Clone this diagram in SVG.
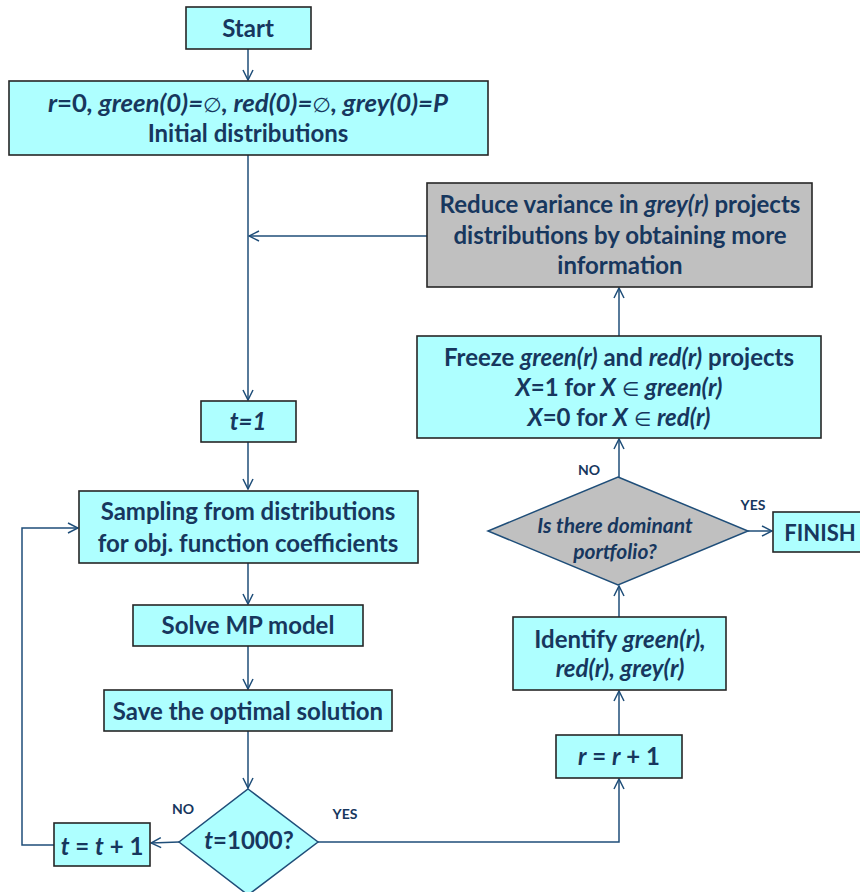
<svg xmlns="http://www.w3.org/2000/svg" width="860" height="892" viewBox="0 0 860 892">
  <style>
    .box { fill: #AEFFFF; stroke: #262626; stroke-width: 1.6; }
    .grey { fill: #C0C0C0; stroke: #262626; stroke-width: 1.6; }
    .dia { stroke: #1F4E79; stroke-width: 1.5; }
    .t { font-family: Lato, "Liberation Sans", "DejaVu Sans", sans-serif; font-weight: bold; font-size: 24px; fill: #17375E; text-anchor: middle; }
    .i { font-style: italic; }
    .sym { font-family: "DejaVu Sans", sans-serif; font-weight: normal; font-style: normal; font-size: 20px; }
    .lbl { font-family: Lato, "Liberation Sans", sans-serif; font-weight: bold; font-size: 14px; fill: #17375E; text-anchor: middle; }
    .c { fill: none; stroke: #1F4E79; stroke-width: 1.5; }
  </style>
  <defs>
    <marker id="arr" viewBox="0 0 12 12" markerWidth="12" markerHeight="12" markerUnits="userSpaceOnUse" refX="11" refY="6" orient="auto">
      <path d="M1,1 L11,6 L1,11" fill="none" stroke="#1F4E79" stroke-width="1.5"/>
    </marker>
  </defs>

  <!-- connectors -->
  <g id="connectors">
    <path class="c" d="M248,49 V80" marker-end="url(#arr)"/>
    <path class="c" d="M248,155 V400" marker-end="url(#arr)"/>
    <path class="c" d="M427,236 H249" marker-end="url(#arr)"/>
    <path class="c" d="M248,442 V489" marker-end="url(#arr)"/>
    <path class="c" d="M248,563 V604" marker-end="url(#arr)"/>
    <path class="c" d="M248,646 V689" marker-end="url(#arr)"/>
    <path class="c" d="M248,731 V788" marker-end="url(#arr)"/>
    <path class="c" d="M179,842 L151,843" marker-end="url(#arr)"/>
    <path class="c" d="M54,845 H22 V528 H78" marker-end="url(#arr)"/>
    <path class="c" d="M318,842 H619 V779" marker-end="url(#arr)"/>
    <path class="c" d="M619,735 V691" marker-end="url(#arr)"/>
    <path class="c" d="M619,617 V586" marker-end="url(#arr)"/>
    <path class="c" d="M619,477 V439" marker-end="url(#arr)"/>
    <path class="c" d="M619,336 V288" marker-end="url(#arr)"/>
    <path class="c" d="M748,531 H772" marker-end="url(#arr)"/>
    <text class="lbl" x="183" y="814">NO</text>
    <text class="lbl" x="345" y="819">YES</text>
    <text class="lbl" x="589" y="475">NO</text>
    <text class="lbl" x="753" y="510">YES</text>
  </g>

  <g id="start">
    <rect class="box" x="186" y="7" width="125" height="42"/>
    <text class="t" x="248" y="37">Start</text>
  </g>

  <g id="init">
    <rect class="box" x="9" y="81" width="479" height="74"/>
    <text class="t" x="248" y="112" textLength="400" lengthAdjust="spacingAndGlyphs"><tspan class="i">r</tspan>=0<tspan class="i">, green(0)=</tspan><tspan class="sym">∅</tspan><tspan class="i">, red(0)=</tspan><tspan class="sym">∅</tspan><tspan class="i">, grey(0)=P</tspan></text>
    <text class="t" x="248" y="142">Initial distributions</text>
  </g>

  <g id="reduce">
    <rect class="grey" x="427" y="183" width="385" height="104"/>
    <text class="t" x="620" y="213">Reduce variance in <tspan class="i">grey(r)</tspan> projects</text>
    <text class="t" x="620" y="244">distributions by obtaining more</text>
    <text class="t" x="620" y="274">information</text>
  </g>

  <g id="t1">
    <rect class="box" x="201" y="401" width="95" height="41"/>
    <text class="t i" x="248" y="430">t=1</text>
  </g>

  <g id="freeze">
    <rect class="box" x="417" y="336" width="404" height="102"/>
    <text class="t" x="619" y="366">Freeze <tspan class="i">green(r)</tspan> and <tspan class="i">red(r)</tspan> projects</text>
    <text class="t" x="619" y="396"><tspan class="i">X</tspan>=1 for <tspan class="i">X</tspan> <tspan class="sym">∈</tspan> <tspan class="i">green(r)</tspan></text>
    <text class="t" x="619" y="426"><tspan class="i">X</tspan>=0 for <tspan class="i">X</tspan> <tspan class="sym">∈</tspan> <tspan class="i">red(r)</tspan></text>
  </g>

  <g id="dominant">
    <polygon class="grey dia" points="618,477 748,531 618,585 488,531"/>
    <text class="t i" x="615" y="533" style="font-size:21px">Is there dominant</text>
    <text class="t i" x="615" y="559" style="font-size:21px">portfolio?</text>
  </g>

  <g id="finish">
    <rect class="box" x="773" y="512" width="100" height="40"/>
    <text class="t" x="820" y="541" style="font-size:22px">FINISH</text>
  </g>

  <g id="sampling">
    <rect class="box" x="79" y="491" width="339" height="72"/>
    <text class="t" x="248" y="520">Sampling from distributions</text>
    <text class="t" x="248" y="552">for obj. function coefficients</text>
  </g>

  <g id="solve">
    <rect class="box" x="133" y="605" width="230" height="41"/>
    <text class="t" x="248" y="634">Solve MP model</text>
  </g>

  <g id="identify">
    <rect class="box" x="513" y="617" width="213" height="73"/>
    <text class="t" x="620" y="648">Identify <tspan class="i">green(r),</tspan></text>
    <text class="t i" x="620" y="677">red(r), grey(r)</text>
  </g>

  <g id="save">
    <rect class="box" x="104" y="690" width="288" height="41"/>
    <text class="t" x="248" y="720">Save the optimal solution</text>
  </g>

  <g id="rinc">
    <rect class="box" x="556" y="735" width="126" height="43"/>
    <text class="t" x="619" y="765"><tspan class="i">r</tspan> = <tspan class="i">r</tspan> + 1</text>
  </g>

  <g id="check">
    <polygon class="box dia" points="248,789 318,842 248,895 179,842"/>
    <text class="t" x="249" y="849"><tspan class="i">t</tspan>=1000?</text>
  </g>

  <g id="tinc">
    <rect class="box" x="54" y="823" width="96" height="43"/>
    <text class="t" x="102" y="855"><tspan class="i">t</tspan> = <tspan class="i">t</tspan> + 1</text>
  </g>
</svg>
